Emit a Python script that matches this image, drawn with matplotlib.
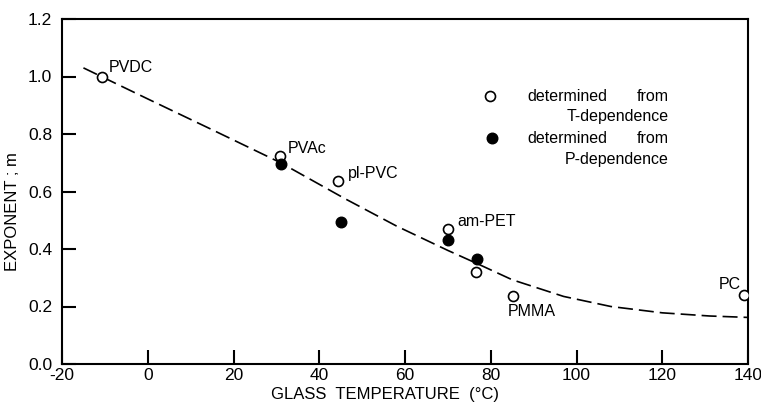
import matplotlib
matplotlib.use("Agg")
import matplotlib.pyplot as plt

plt.rcParams['font.family'] = ['Liberation Sans', 'DejaVu Sans']

# ---------------------------------------------------------
# data
# ---------------------------------------------------------
open_tg = [-10.7, 30.8, 44.4, 70.0, 76.6, 85.2, 139.1]
open_m = [1.00, 0.723, 0.636, 0.47, 0.32, 0.237, 0.24]

filled_tg = [31.0, 45.1, 70.0, 76.8]
filled_m = [0.695, 0.494, 0.431, 0.365]

curve_tg = [-15, 0, 15, 31, 46, 58, 70, 77, 85, 97, 108, 120, 131, 140]
curve_m = [1.03, 0.922, 0.815, 0.70, 0.575, 0.48, 0.395, 0.348, 0.293, 0.235, 0.20, 0.178, 0.167, 0.162]

labels = ['PVDC', 'PVAc', 'pl-PVC', 'am-PET', 'PMMA', 'PC']
label_tg = [-9.0, 32.7, 46.7, 72.1, 84.0, 138.3]
label_m = [1.03, 0.748, 0.664, 0.494, 0.181, 0.275]
label_ha = ['left', 'left', 'left', 'left', 'left', 'right']

xticks = [-20, 0, 20, 40, 60, 80, 100, 120, 140]
yticks = [0.0, 0.2, 0.4, 0.6, 0.8, 1.0, 1.2]

# ---------------------------------------------------------
# figure
# ---------------------------------------------------------
fig = plt.figure(figsize=(7.61, 4.03), dpi=100)
ax = fig.add_axes([62 / 761, 1 - 364 / 403, (748 - 62) / 761, (364 - 19) / 403])

ax.plot(curve_tg, curve_m, color='black', lw=1.2, dashes=(9, 3.6))
ax.plot(open_tg, open_m, 'o', ms=7.2, mfc='white', mec='black', mew=1.2, zorder=3)
ax.plot(filled_tg, filled_m, 'o', ms=7.6, mfc='black', mec='black', zorder=3)

for name, t, m, ha in zip(labels, label_tg, label_m, label_ha):
    ax.text(t, m, name, fontsize=11.5, ha=ha, va='center')

# legend drawn by hand like the original
ax.plot([79.8], [0.932], 'o', ms=7.2, mfc='white', mec='black', mew=1.2)
ax.plot([80.2], [0.785], 'o', ms=7.6, mfc='black', mec='black')
for m, dep in [(0.932, 'T-dependence'), (0.785, 'P-dependence')]:
    ax.text(88.5, m, 'determined', fontsize=11.5, va='center')
    ax.text(121.5, m, 'from', fontsize=11.5, va='center', ha='right')
    ax.text(121.5, m - 0.072, dep, fontsize=11.5, va='center', ha='right')

ax.set_xlim(-20, 140)
ax.set_ylim(0, 1.2)
ax.set_xticks(xticks)
ax.set_yticks(yticks)
ax.set_xticklabels([str(v) for v in xticks])
ax.set_yticklabels([f'{v:.1f}' for v in yticks])
ax.tick_params(direction='in', length=10, width=1.5, labelsize=12.5, pad=3)
ax.tick_params(axis='y', pad=7)
for sp in ax.spines.values():
    sp.set_linewidth(1.5)

fig.text(385 / 761, 1 - 394 / 403, 'GLASS  TEMPERATURE  (\u00b0C)', fontsize=12,
         ha='center', va='center')
fig.text(13 / 761, 1 - 212 / 403, 'EXPONENT ; m', fontsize=12, rotation=90,
         ha='center', va='center')

fig.savefig('out.png', dpi=100)
